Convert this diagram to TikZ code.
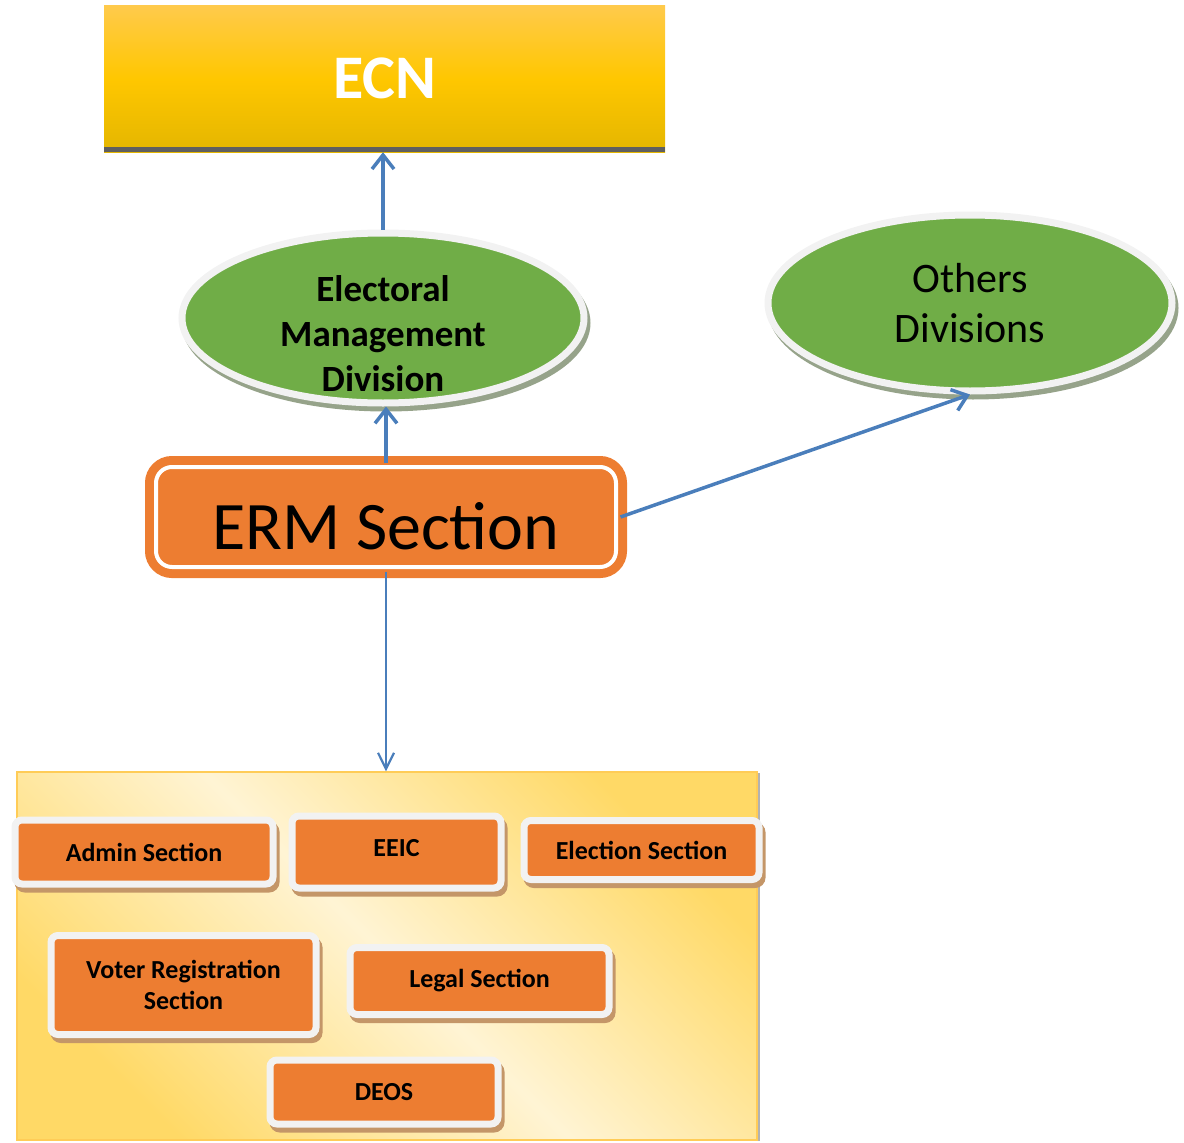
\documentclass[tikz,border=0pt]{standalone}
\usepackage{fontspec}
\setmainfont{Carlito}
\usetikzlibrary{shapes.geometric,arrows.meta,shadows}
\definecolor{ecntop}{RGB}{255,202,76}
\definecolor{ecnmid}{RGB}{255,199,0}
\definecolor{ecnbot}{RGB}{228,182,0}
\definecolor{ecnbase}{RGB}{95,95,95}
\definecolor{divgreen}{RGB}{112,173,71}
\definecolor{ringgray}{RGB}{242,242,242}
\definecolor{divshadow}{RGB}{150,163,138}
\definecolor{secorange}{RGB}{237,125,49}
\definecolor{secshadow}{RGB}{196,150,104}
\definecolor{linkblue}{RGB}{74,126,187}
\definecolor{frameyel}{RGB}{255,217,102}
\definecolor{framelight}{RGB}{255,244,212}
\pgfdeclarehorizontalshading{framefill}{100bp}{color(0bp)=(frameyel); color(25bp)=(frameyel); color(50bp)=(framelight); color(75bp)=(frameyel); color(100bp)=(frameyel)}
\tikzset{
  division/.style={ellipse, fill=divgreen, draw=ringgray, line width=7pt, inner sep=0pt, align=center,
    drop shadow={shadow xshift=3pt, shadow yshift=-5pt, fill=divshadow, draw=divshadow, opacity=1}},
  secbox/.style={rectangle, rounded corners=7pt, fill=secorange, draw=ringgray, line width=7pt, inner sep=0pt, align=center,
    font=\fontsize{26}{31.5}\selectfont\bfseries,
    drop shadow={shadow xshift=3pt, shadow yshift=-5pt, fill=secshadow, draw=secshadow, opacity=1}},
  link/.style={draw=linkblue, line width=3.5pt, -{Straight Barb[length=14pt,width=22pt]}},
}
\begin{document}
\begin{tikzpicture}[x=1pt,y=-1pt]
  \useasboundingbox (0,0) rectangle (1184,1143);
  % commission on top, grey strip under it
  \node[rectangle, minimum width=561pt, minimum height=147pt, top color=ecntop, bottom color=ecnbot, middle color=ecnmid,
    text=white, font=\fontsize{62}{74}\selectfont\bfseries,
    path picture={\fill[ecnbase] ([yshift=5pt]path picture bounding box.south west) rectangle (path picture bounding box.south east);}]
    (ecn) at (384.5,78.5) {ECN};
  \node[division, minimum width=402pt, minimum height=170pt,
    label={[align=center, font=\fontsize{37}{45}\selectfont\bfseries, yshift=-16pt]center:Electoral\\Management\\Division}]
    (emd) at (383,318) {};
  \node[division, minimum width=404pt, minimum height=176pt, font=\fontsize{42}{50}\selectfont] (others) at (970,303) {Others\\Divisions};
  \node[rectangle, rounded corners=16pt, fill=secorange, draw=secorange, double=white, double distance=4pt, line width=9pt,
    minimum width=460pt, minimum height=100pt, text height=64pt, text depth=0pt, font=\fontsize{68}{80}\selectfont]
    (erm) at (386,517) {ERM Section};
  % the yellow panel with the sections
  \node[rectangle, minimum width=740pt, minimum height=368pt, shading=framefill, shading angle=45,
    draw=frameyel!85!orange, line width=1.5pt, drop shadow={shadow xshift=3pt, shadow yshift=-1pt, fill=black!30, opacity=1}]
    (frame) at (387,956) {};
  \foreach \nm/\cx/\cy/\ww/\hh/\txt in {admin/144/852/258/64/{Admin Section},
      eeic/396.5/852/209/72/{\raisebox{9pt}{EEIC}},
      election/641.5/850/235/59/{Election Section},
      voter/183.5/985/265/99/{Voter Registration\\Section},
      legal/479.5/981/259/67/{Legal Section},
      deos/384/1092/228/64/{DEOS}}{
    \node[secbox, minimum width=\ww pt, minimum height=\hh pt] (\nm) at (\cx,\cy) {\txt};};
  \draw[link] (emd.north) -- (emd.north |- ecn.south);
  \draw[link] (erm.north) -- (erm.north |- emd.south);
  \draw[link] (erm.east) -- (others.south);
  \draw[link, line width=2.2pt, -{Straight Barb[length=16pt,width=16pt]}] (erm.south) -- (erm.south |- frame.north);
\end{tikzpicture}
\end{document}
